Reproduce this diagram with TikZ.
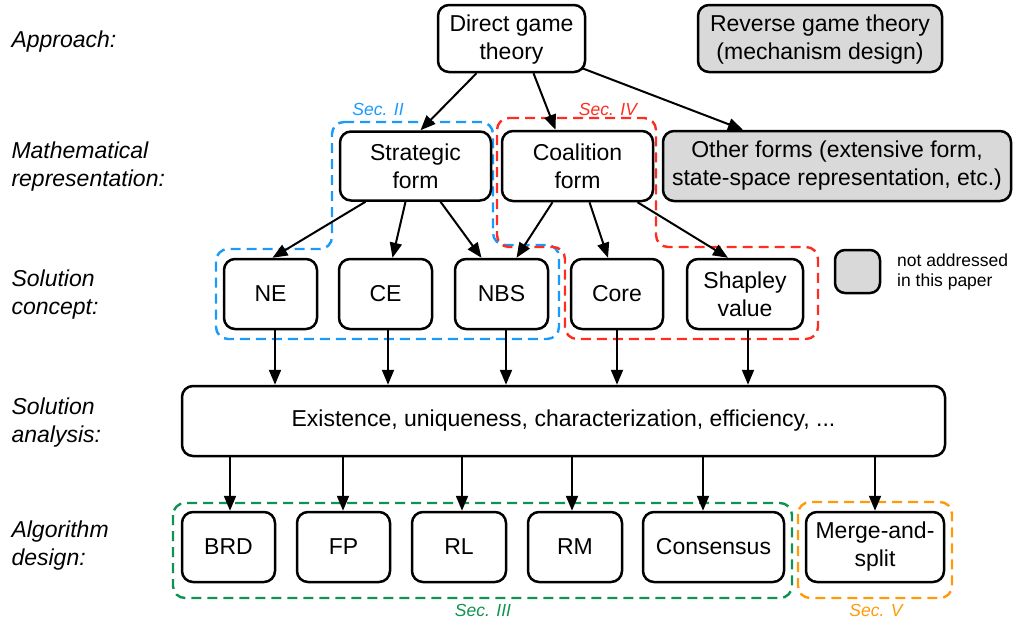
\documentclass[tikz,border=0pt]{standalone}
\usepackage{fontspec}
\setmainfont{Liberation Sans}
\usetikzlibrary{arrows.meta}
\definecolor{gfill}{HTML}{D9D9D9}
\definecolor{secblue}{HTML}{1A9BFC}
\definecolor{secred}{HTML}{FF2D1F}
\definecolor{secgreen}{HTML}{0E9350}
\definecolor{secorange}{HTML}{FF9A0A}
\begin{document}
\begin{tikzpicture}[x=1pt,y=-1pt,
  box/.style={draw, line width=2.5pt, rounded corners=11pt, align=center, inner sep=0pt,
    font=\fontsize{23}{28}\selectfont, minimum height=70pt},
  notaddr/.style={box, fill=gfill},
  arr/.style={line width=2pt, -{Triangle[length=15pt,width=12pt]}},
  lab/.style={anchor=west, align=left, font=\fontsize{23}{28}\selectfont\itshape},
  sec/.style={font=\fontsize{17.5}{20}\selectfont\itshape},
  region/.style={line width=2.4pt, dash pattern=on 10pt off 6pt, rounded corners=12pt}
]
\useasboundingbox (0,0) rectangle (1014,622);

% row labels
\node[lab] (l1) at (8,42) {Approach:};
\node[lab] (l2) at (8,167) {Mathematical\\representation:};
\node[lab] (l3) at (8,295) {Solution\\concept:};
\node[lab] (l4) at (8,423) {Solution\\analysis:};
\node[lab] (l5) at (8,546) {Algorithm\\design:};

% dashed regions
\draw[region, secblue] (332,122) -- (493,122) -- (493,245) -- (559,245) -- (559,339) -- (216,339) -- (216,249) -- (332,249) -- cycle;
\draw[region, secred] (497,118) -- (656,118) -- (656,247) -- (818,247) -- (818,339) -- (565,339) -- (565,247) -- (497,247) -- cycle;
\draw[region, secgreen] (173,503) rectangle (792,598);
\draw[region, secorange] (798,502) rectangle (952,598);
\node[sec, text=secblue] (s2) at (378,109) {Sec. II};
\node[sec, text=secred] (s4) at (608,109) {Sec. IV};
\node[sec, text=secgreen] (s3) at (483,610) {Sec. III};
\node[sec, text=secorange] (s5) at (876,610) {Sec. V};

% nodes
\node[box, minimum width=147pt, minimum height=67pt] (D) at (511.5,38.5) {\strut Direct game\\theory};
\node[notaddr, minimum width=244pt, minimum height=67pt] (R) at (820,38.5) {\strut Reverse game theory\\(mechanism design)};
\node[box, minimum width=151pt, minimum height=69pt] (S) at (415.5,166) {Strategic\\form};
\node[box, minimum width=151pt] (C) at (577.5,166) {Coalition\\form};
\node[notaddr, minimum width=348pt] (O) at (837,166) {Other forms (extensive form,\\state-space representation, etc.)};
\node[box, minimum width=93pt] (NE) at (270.5,294) {NE};
\node[box, minimum width=93pt] (CE) at (385.5,294) {CE};
\node[box, minimum width=93pt] (NBS) at (501.5,294) {NBS};
\node[box, minimum width=92pt] (Core) at (617,294) {Core};
\node[box, minimum width=116pt] (Sh) at (745,294) {Shapley\\value};
\node[notaddr, minimum width=45pt, minimum height=43pt, rounded corners=10pt] (Leg) at (857.5,271.5) {};
\node[anchor=west, align=left, inner sep=0pt, font=\fontsize{17.5}{20}\selectfont] (LegT) at (897,272) {not addressed\\in this paper};
\node[box, minimum width=763pt] (SA) at (563.5,421) {Existence, uniqueness, characterization, efficiency, ...};
\node[box, minimum width=93pt] (BRD) at (228.5,547) {BRD};
\node[box, minimum width=93pt] (FP) at (343.5,547) {FP};
\node[box, minimum width=94pt] (RL) at (459,547) {RL};
\node[box, minimum width=94pt] (RM) at (575,547) {RM};
\node[box, minimum width=141pt] (Cons) at (713.5,547) {Consensus};
\node[box, minimum width=138pt] (MS) at (875,547) {Merge-and-\\split};

% connectors
\draw[arr] ([xshift=-35pt]D.south) -- ([xshift=5pt]S.north);
\draw[arr] ([xshift=22pt]D.south) -- ([xshift=-22pt]C.north);
\draw[arr] ([xshift=-4pt,yshift=5pt]D.south east) -- ([xshift=-94pt]O.north);
\draw[arr] ([xshift=-50pt]S.south) -- ([xshift=2pt]NE.north);
\draw[arr] ([xshift=-10pt]S.south) -- ([xshift=7pt]CE.north);
\draw[arr] ([xshift=25pt]S.south) -- ([xshift=-20pt]NBS.north);
\draw[arr] ([xshift=-25pt]C.south) -- ([xshift=15pt]NBS.north);
\draw[arr] ([xshift=12pt]C.south) -- ([xshift=-9pt]Core.north);
\draw[arr] ([xshift=60pt]C.south) -- ([xshift=-17pt]Sh.north);

\draw[arr] ([xshift=4.5pt]NE.south) -- ([xshift=4.5pt]NE.south |- SA.north);
\draw[arr] ([xshift=2.5pt]CE.south) -- ([xshift=2.5pt]CE.south |- SA.north);
\draw[arr] ([xshift=4.5pt]NBS.south) -- ([xshift=4.5pt]NBS.south |- SA.north);
\draw[arr] (Core.south) -- (Core.south |- SA.north);
\draw[arr] ([xshift=3pt]Sh.south) -- ([xshift=3pt]Sh.south |- SA.north);

\draw[arr] ([xshift=1.5pt]BRD.north |- SA.south) -- ([xshift=1.5pt]BRD.north);
\draw[arr] ([xshift=-0.5pt]FP.north |- SA.south) -- ([xshift=-0.5pt]FP.north);
\draw[arr] ([xshift=3pt]RL.north |- SA.south) -- ([xshift=3pt]RL.north);
\draw[arr] ([xshift=-3pt]RM.north |- SA.south) -- ([xshift=-3pt]RM.north);
\draw[arr] ([xshift=-10.5pt]Cons.north |- SA.south) -- ([xshift=-10.5pt]Cons.north);
\draw[arr] (MS.north |- SA.south) -- (MS.north);
\end{tikzpicture}
\end{document}
